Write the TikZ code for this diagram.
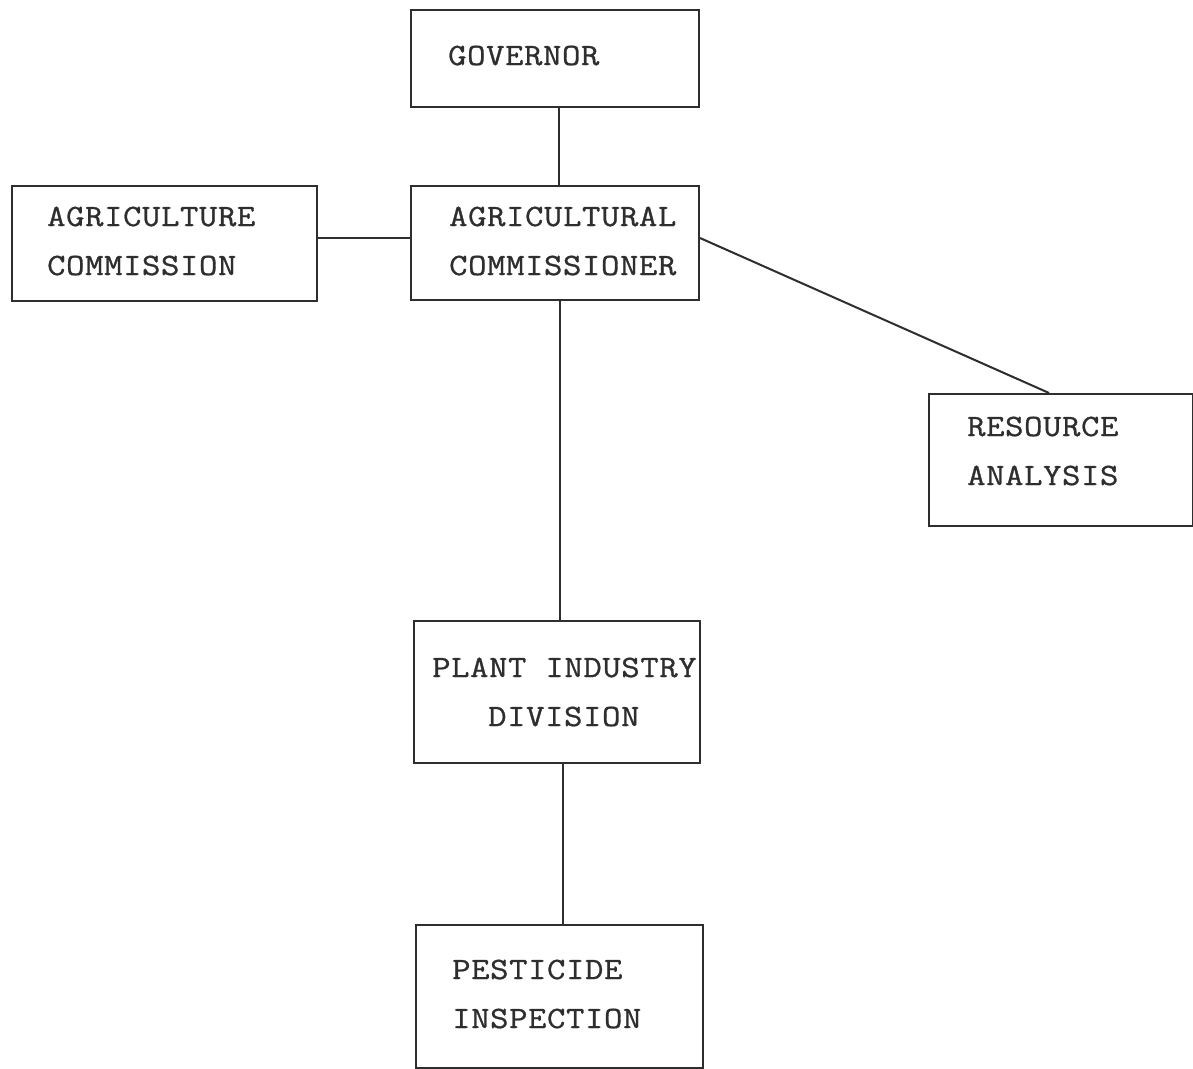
\documentclass[tikz,border=0pt]{standalone}
\usepackage{fontspec}
\setmonofont{Latin Modern Mono}[FakeStretch=1.15, LetterSpace=2, FakeBold=0.9]
\usetikzlibrary{calc}
\definecolor{ink}{HTML}{2E2E2E}
\tikzset{
  unitbox/.style={draw=ink, line width=2.1pt, rectangle, inner sep=0pt, anchor=north west},
  lbl/.style={anchor=base west, inner sep=0pt, text=ink, font=\ttfamily\fontsize{31pt}{36pt}\selectfont},
  link/.style={draw=ink, line width=2pt}
}
\begin{document}
\begin{tikzpicture}[x=1pt, y=-1pt]
  \useasboundingbox (0,0) rectangle (1193,1068);
  \fill[white] (0,0) rectangle (1193,1068);

  % boxes
  \node[unitbox, minimum width=288pt, minimum height=97pt]  (gov)  at (410,9)   {};
  \node[unitbox, minimum width=305pt, minimum height=115pt] (acom) at (11,185)  {};
  \node[unitbox, minimum width=288pt, minimum height=114pt] (comm) at (410,185) {};
  \node[unitbox, minimum width=264pt, minimum height=132pt] (res)  at (928,393) {};
  \node[unitbox, minimum width=286pt, minimum height=142pt] (pid)  at (413,620) {};
  \node[unitbox, minimum width=287pt, minimum height=143pt] (pest) at (415,924) {};

  % labels
  \node[lbl] (tgov)   at (448,65)   {GOVERNOR};
  \node[lbl] (tacom1) at (47,226)   {AGRICULTURE};
  \node[lbl] (tacom2) at (47,275)   {COMMISSION};
  \node[lbl] (tcomm1) at (449,226)  {AGRICULTURAL};
  \node[lbl] (tcomm2) at (449,275)  {COMMISSIONER};
  \node[lbl] (tres1)  at (967,436)  {RESOURCE};
  \node[lbl] (tres2)  at (967,485)  {ANALYSIS};
  \node[lbl] (tpid1)  at (432,677)  {PLANT INDUSTRY};
  \node[lbl] (tpid2)  at (488,726)  {DIVISION};
  \node[lbl] (tpest1) at (452,979)  {PESTICIDE};
  \node[lbl] (tpest2) at (452,1028) {INSPECTION};

  % connectors
  \draw[link] ([xshift=4pt]gov.south) -- ([xshift=4pt]gov.south |- comm.north);
  \draw[link] ([yshift=6pt]acom.east) -- ([yshift=6pt]acom.east -| comm.west);
  \draw[link] ([yshift=5pt]comm.east) -- ([xshift=-12pt]res.north);
  \draw[link] ([xshift=5pt]comm.south) -- ([xshift=5pt]comm.south |- pid.north);
  \draw[link] ([xshift=6pt]pid.south) -- ([xshift=6pt]pid.south |- pest.north);
\end{tikzpicture}
\end{document}
